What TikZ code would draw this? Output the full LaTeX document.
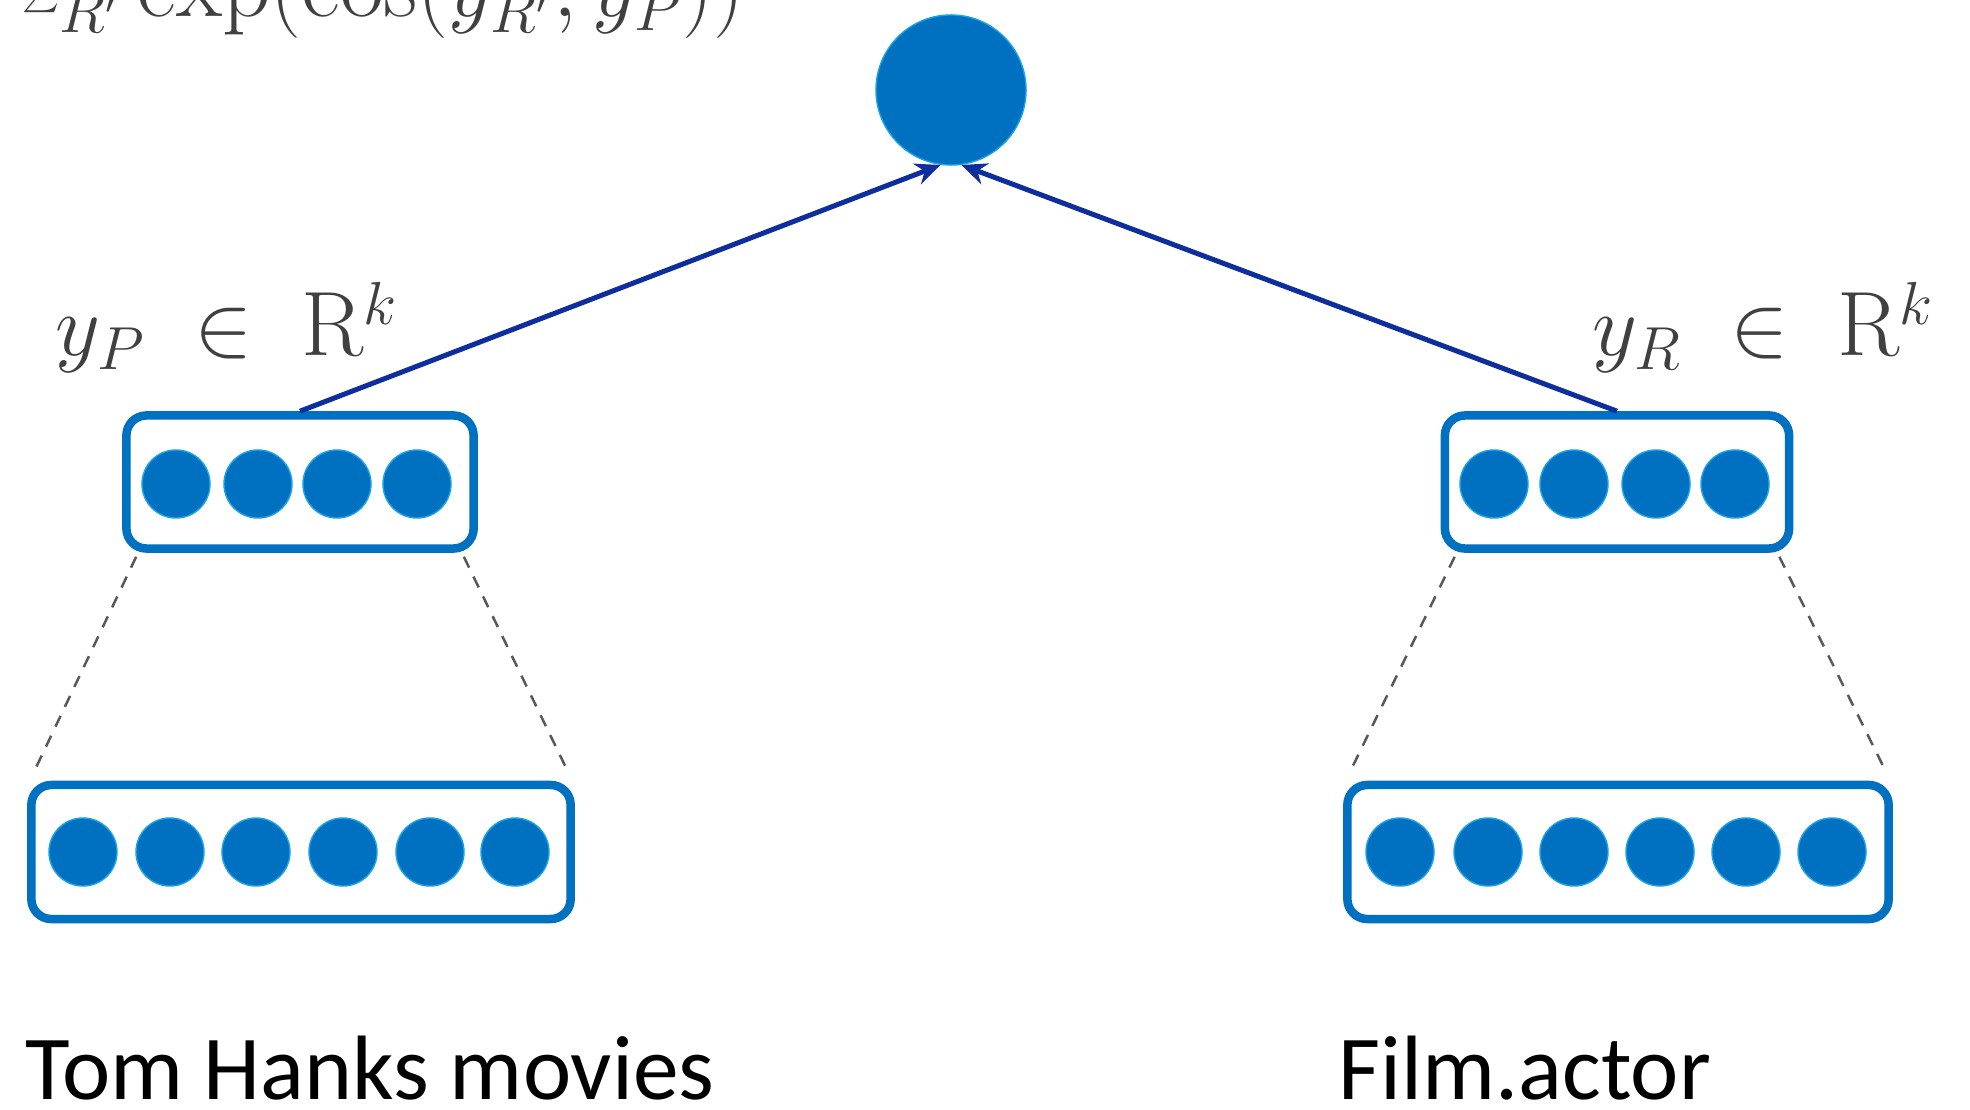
\documentclass[tikz,border=0pt]{standalone}
\usepackage{fontspec}
\newfontfamily\labelfont{Carlito}
\usetikzlibrary{arrows.meta}
\definecolor{dotblue}{HTML}{0070C0}
\definecolor{dotedge}{HTML}{1AA3E6}
\definecolor{arrblue}{HTML}{0F2E9E}
\definecolor{mathgray}{HTML}{404040}
\definecolor{dashgray}{HTML}{595959}
\begin{document}
\begin{tikzpicture}[x=0.01cm,y=-0.01cm,
  dot/.style={circle,fill=dotblue,draw=dotedge,line width=0.4pt,inner sep=0pt,minimum size=0.68cm},
  vecbox/.style={draw=dotblue,line width=0.085cm,rounded corners=0.2cm,inner sep=0pt,minimum height=1.33cm},
  arr/.style={draw=arrblue,line width=0.05cm,-{Stealth[length=0.25cm,width=0.22cm]}},
  dashline/.style={draw=dashgray,line width=0.025cm,dash pattern=on 0.12cm off 0.1cm},
  mathlbl/.style={text=mathgray,font=\fontsize{26}{30}\selectfont,inner sep=0pt},
  toplbl/.style={text=mathgray,font=\fontsize{27}{32}\selectfont,inner sep=0pt},
  txtlbl/.style={text=black,font=\labelfont\fontsize{26}{30}\selectfont,inner sep=0pt}]
\useasboundingbox (0,0) rectangle (1970,1110);
\fill[white] (0,0) rectangle (1970,1110);

% top formula (cut off at top, as in the reference)
\node[toplbl,anchor=base west] (den) at (22,17) {$\sum_{R'} \exp(\cos(y_{R'}, y_P))$};

% top node
\node[dot,minimum size=1.5cm] (top) at (951,90) {};

% boxes
\node[vecbox,minimum width=3.47cm] (sL) at (300,482) {};
\node[vecbox,minimum width=5.39cm,minimum height=1.34cm] (bL) at (301,852) {};
\node[vecbox,minimum width=3.44cm] (sR) at (1617,482) {};
\node[vecbox,minimum width=5.41cm,minimum height=1.34cm] (bR) at (1618,852) {};

% dots
\foreach \x [count=\i] in {176,258,337,417} \node[dot] (sLd\i) at (\x,484) {};
\foreach \x [count=\i] in {1494,1574,1656,1735} \node[dot] (sRd\i) at (\x,484) {};
\foreach \x [count=\i] in {83,170,256,343,430,515} \node[dot] (bLd\i) at (\x,852) {};
\foreach \x [count=\i] in {1400,1488,1574,1660,1746,1832} \node[dot] (bRd\i) at (\x,852) {};

% dashed projection lines
\draw[dashline] ([xshift=0.14cm,yshift=-0.04cm]sL.south west) -- ([xshift=0.06cm,yshift=0.07cm]bL.north west);
\draw[dashline] ([xshift=-0.14cm,yshift=-0.04cm]sL.south east) -- ([xshift=-0.06cm,yshift=0.07cm]bL.north east);
\draw[dashline] ([xshift=0.14cm,yshift=-0.04cm]sR.south west) -- ([xshift=0.06cm,yshift=0.07cm]bR.north west);
\draw[dashline] ([xshift=-0.14cm,yshift=-0.04cm]sR.south east) -- ([xshift=-0.06cm,yshift=0.07cm]bR.north east);

% arrows
\draw[arr] (sL.north) -- (top.-98);
\draw[arr] (sR.north) -- (top.-82);

% labels
\node[mathlbl,anchor=base west] (lp) at (55,356) {$y_P \;\in\; \mathrm{R}^k$};
\node[mathlbl,anchor=base west] (lr) at (1592,356) {$y_R \;\in\; \mathrm{R}^k$};

\node[txtlbl,anchor=base west] (tl) at (25,1099) {Tom Hanks movies};
\node[txtlbl,anchor=base west] (tr) at (1338,1099) {Film.actor};
\end{tikzpicture}
\end{document}
